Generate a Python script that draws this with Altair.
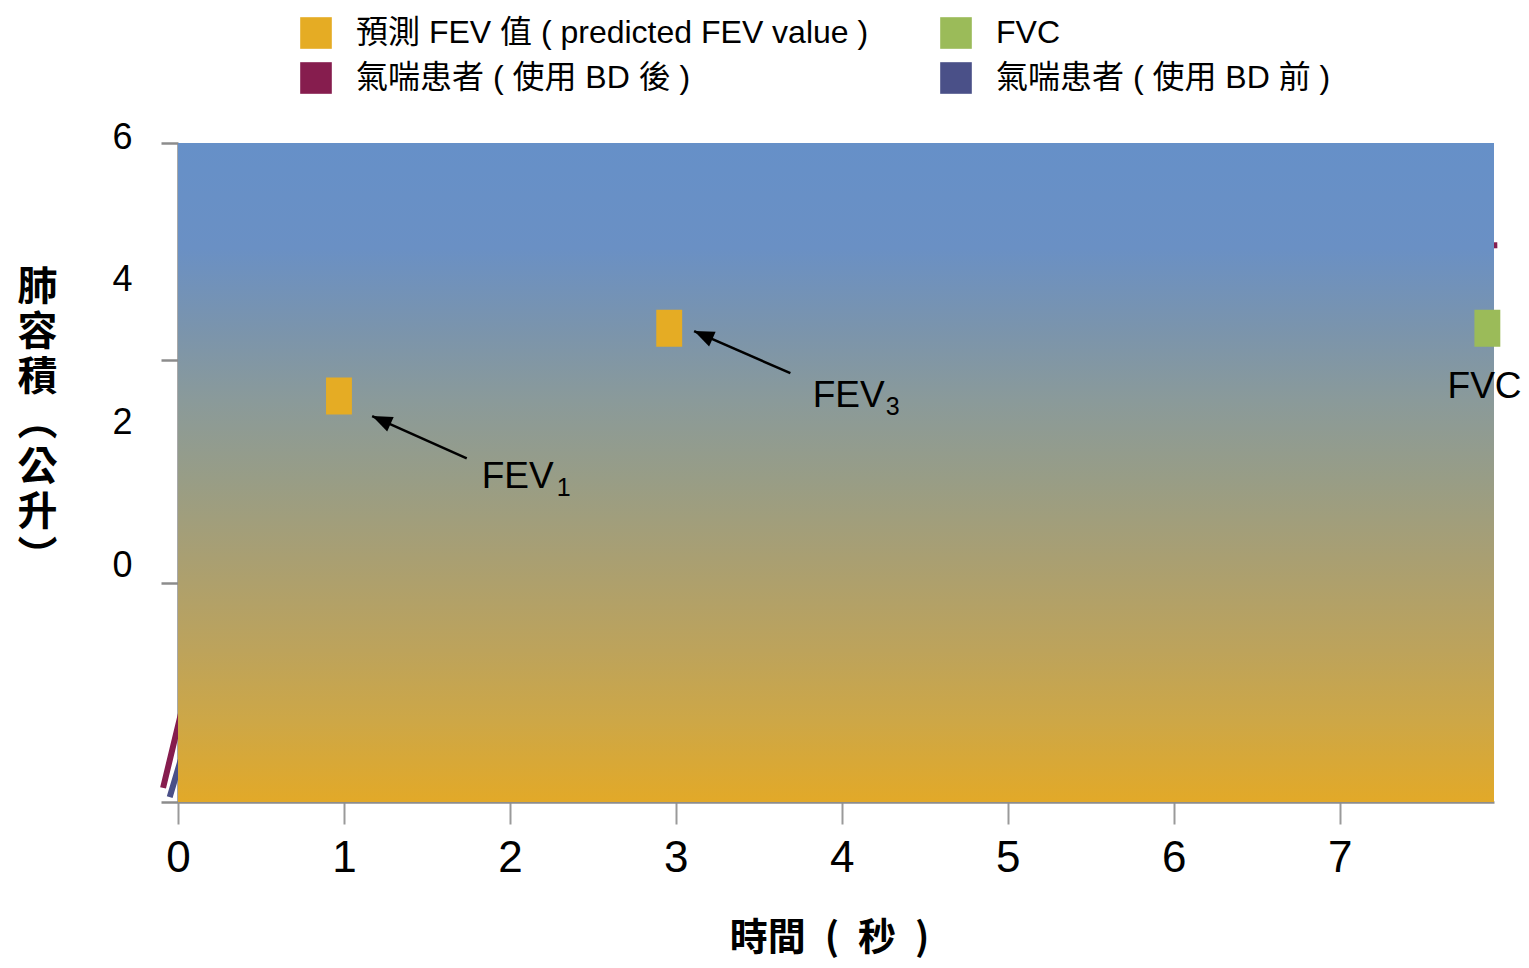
import altair as alt
import pandas as pd

FONT = "Liberation Sans, Noto Sans CJK TC"
CJK = "Noto Sans CJK TC"

# ---- series / legend ----
series_names = ["預測 FEV 值 ( predicted FEV value )", "FVC",
                "氣喘患者 ( 使用 BD 後 )", "氣喘患者 ( 使用 BD 前 )"]
series_colors = ["#E5AC24", "#9BBB59", "#861D4E", "#4A5088"]
legend_order = [0, 2, 1, 3]   # legend fills column by column

# ---- markers (predicted FEV values and FVC) ----
marker_series = [series_names[0], series_names[0], series_names[1]]
marker_time = [0.97, 2.96, 7.89]
marker_volume = [2.46, 3.41, 3.41]

# ---- asthma patient curves (mostly hidden behind the background) ----
post_time = [-0.09, 0.02, 0.5, 1.0, 2.0, 3.0, 4.0, 5.0, 6.0, 7.0, 7.95]
post_volume = [-3.02, -1.96, 0.8, 2.0, 3.2, 3.8, 4.1, 4.3, 4.45, 4.53, 4.57]
pre_time = [-0.05, 0.02, 0.5, 1.0, 2.0, 3.0, 4.0, 5.0, 6.0, 7.0, 7.9]
pre_volume = [-3.15, -2.6, -0.5, 0.8, 1.9, 2.5, 2.9, 3.15, 3.35, 3.5, 3.6]

# ---- axes ----
x_ticks = [0, 1, 2, 3, 4, 5, 6, 7]
x_domain = [0, 7.93]
y_domain = [-3.217, 6]
y_label_values = [6, 4, 2, 0]
y_tick_values = [6, 2.965, -0.154, -3.217]
x_title = "時間\u2002(\u2002秒\u2002)"
y_title = ["肺", "容", "積", "︵", "公", "升", "︶"]

# ---- annotations ----
arrow_tail_t = [1.74, 3.69]
arrow_tail_v = [1.59, 2.78]
arrow_head_t = [1.17, 3.11]
arrow_head_v = [2.18, 3.37]
label_text = ["FEV", "FEV", "FVC"]
label_t = [1.83, 3.825, 7.65]
label_v = [1.175, 2.308, 2.434]
sub_text = ["1", "3"]
sub_t = [2.283, 4.265]
sub_v = [1.063, 2.196]

W, H = 1316, 659

lines_df = pd.DataFrame({
    "time": pre_time + post_time,
    "volume": pre_volume + post_volume,
    "curve": [series_names[3]] * len(pre_time) + [series_names[2]] * len(post_time),
})
markers_df = pd.DataFrame({"time": marker_time, "volume": marker_volume, "series": marker_series})
legend_names = [series_names[i] for i in legend_order]
legend_colors = [series_colors[i] for i in legend_order]
legend_df = pd.DataFrame({"series": legend_names})
arrows_df = pd.DataFrame({"t": arrow_tail_t, "v": arrow_tail_v, "t2": arrow_head_t, "v2": arrow_head_v})
labels_df = pd.DataFrame({"t": label_t, "v": label_v, "text": label_text})
subs_df = pd.DataFrame({"t": sub_t, "v": sub_v, "text": sub_text})

xs = alt.Scale(domain=x_domain, nice=False, zero=False)
ys = alt.Scale(domain=y_domain, nice=False, zero=False)

x_axis = alt.Axis(values=x_ticks, format="d", title=x_title, grid=False, tickSize=22, tickWidth=2,
                  tickColor="#9a9a9a", domainColor="#8c8c8c", domainWidth=2.5,
                  labelFontSize=44, labelFont=FONT, labelColor="black", labelPadding=12,
                  labelFlush=False, labelOverlap=False,
                  titleFont=CJK, titleFontSize=38, titleFontWeight="bold", titleColor="black",
                  titleX=651, titleY=136, titleBaseline="middle")

y_axis_labels = alt.Axis(values=y_label_values, format="d", title=y_title, grid=False, ticks=False,
                         orient="left", domainColor="#8c8c8c", domainWidth=2.5,
                         labelFontSize=36, labelFont=FONT, labelColor="black",
                         labelPadding=46, labelOffset=-6, labelOverlap=False, labelFlush=False,
                         titleFont=CJK, titleFontSize=40, titleFontWeight="bold", titleColor="black",
                         titleAngle=0, titleAlign="center", titleBaseline="top",
                         titleLineHeight=45, titleX=-141, titleY=124)

y_axis_ticks = alt.Axis(values=y_tick_values, title=None, grid=False, labels=False, domain=False,
                        orient="left", tickSize=17, tickWidth=2.5, tickColor="#8c8c8c")

lines = alt.Chart(lines_df).mark_line(strokeWidth=6).encode(
    x=alt.X("time:Q", scale=xs, axis=x_axis),
    y=alt.Y("volume:Q", scale=ys, axis=y_axis_labels),
    stroke=alt.Stroke("curve:N", scale=alt.Scale(domain=series_names[2:], range=series_colors[2:]),
                      legend=None),
    order=alt.Order("time:Q"),
)

background = alt.Chart(pd.DataFrame({"a": [0]})).mark_rect(
    fill=alt.Gradient(
        gradient="linear", x1=0, x2=0, y1=0, y2=1,
        stops=[
            alt.GradientStop(offset=0.0, color="#6690c8"),
            alt.GradientStop(offset=0.16, color="#6a90c4"),
            alt.GradientStop(offset=0.28, color="#7a94ad"),
            alt.GradientStop(offset=0.39, color="#8a9a9a"),
            alt.GradientStop(offset=0.51, color="#989d86"),
            alt.GradientStop(offset=0.63, color="#a99f72"),
            alt.GradientStop(offset=0.77, color="#bda35b"),
            alt.GradientStop(offset=0.875, color="#cda747"),
            alt.GradientStop(offset=1.0, color="#e2a928"),
        ],
    )
).encode(x=alt.value(0), x2=alt.value("width"), y=alt.value(0), y2=alt.value("height"))

markers = alt.Chart(markers_df).mark_point(
    filled=True, opacity=1, shape="M-0.7,-1L0.7,-1L0.7,1L-0.7,1Z", size=1369
).encode(
    x=alt.X("time:Q", scale=xs),
    y=alt.Y("volume:Q", scale=ys, axis=y_axis_ticks),
    fill=alt.Fill("series:N", scale=alt.Scale(domain=series_names[:2], range=series_colors[:2]),
                  legend=None),
)

legend_layer = alt.Chart(legend_df).mark_square(size=0).encode(
    color=alt.Color("series:N", scale=alt.Scale(domain=legend_names, range=legend_colors),
                    legend=alt.Legend(orient="none", legendX=122, legendY=-126, columns=2,
                                      symbolType="square", symbolSize=1000, symbolStrokeWidth=0,
                                      symbolOpacity=1, labelFontSize=32, labelFont=FONT,
                                      labelColor="black", labelLimit=1000, columnPadding=71,
                                      rowPadding=13, labelOffset=24, title=None)),
)

arrow_lines = alt.Chart(arrows_df).mark_rule(color="black", strokeWidth=2.5).encode(
    x=alt.X("t:Q", scale=xs), y=alt.Y("v:Q", scale=ys, axis=None),
    x2="t2:Q", y2="v2:Q",
)
arrow_heads = alt.Chart(arrows_df).mark_point(
    filled=True, opacity=1, color="black", shape="M0,0L0.4,1L-0.4,1Z", size=1600, angle=294
).encode(x=alt.X("t2:Q", scale=xs), y=alt.Y("v2:Q", scale=ys, axis=None))

labels = alt.Chart(labels_df).mark_text(
    align="left", baseline="alphabetic", fontSize=37, font=FONT, color="black"
).encode(x=alt.X("t:Q", scale=xs), y=alt.Y("v:Q", scale=ys, axis=None), text="text:N")

subs = alt.Chart(subs_df).mark_text(
    align="left", baseline="alphabetic", fontSize=25, font=FONT, color="black"
).encode(x=alt.X("t:Q", scale=xs), y=alt.Y("v:Q", scale=ys, axis=None), text="text:N")

chart = alt.layer(lines, background, markers, legend_layer, arrow_lines, arrow_heads, labels, subs
).resolve_axis(
    y="independent"
).properties(
    width=W, height=H,
    autosize=alt.AutoSizeParams(type="none"),
    padding={"left": 170, "top": 135, "right": 27, "bottom": 157},
).configure_view(stroke=None)

chart.save("out.html", embed_options={"renderer": "svg", "actions": False})
